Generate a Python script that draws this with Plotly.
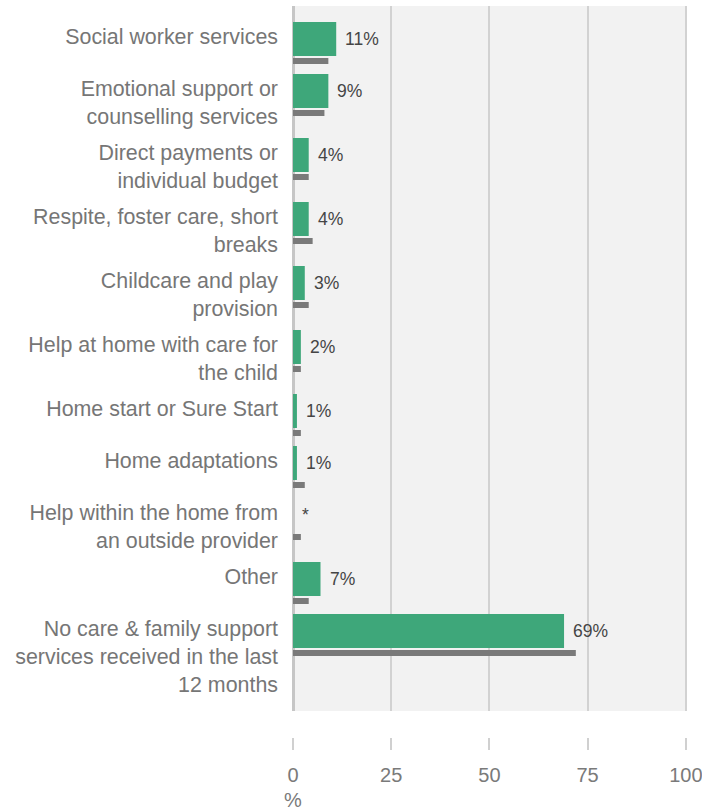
import plotly.graph_objects as go

# Care & family support services used in the last 12 months (%)
labels = [
    "Social worker services",
    "Emotional support or<br>counselling services",
    "Direct payments or<br>individual budget",
    "Respite, foster care, short<br>breaks",
    "Childcare and play<br>provision",
    "Help at home with care for<br>the child",
    "Home start or Sure Start",
    "Home adaptations",
    "Help within the home from<br>an outside provider",
    "Other",
    "No care & family support<br>services received in the last<br>12 months",
]
current = [11, 9, 4, 4, 3, 2, 1, 1, 0, 7, 69]
previous = [9, 8, 4, 5, 4, 2, 2, 3, 2, 4, 72]
value_text = ["*" if v == 0 else f"{v}%" for v in current]

x_ticks = [0, 25, 50, 75, 100]
X_MAX = 100.3   # a hair past 100 so the last gridline is kept

GREEN = "#3ea77a"
GREY_BAR = "#7a7a7a"
FONT = "Liberation Sans, Arial, Helvetica, sans-serif"

# page geometry (px)
W, H = 702, 811
M_L, M_T, M_B = 293, 6, 74
M_R = round(W - M_L - 393 * X_MAX / 100)
PLOT_H = H - M_T - M_B          # full plotting height incl. floating ticks
BAND_H = 705                    # height of the shaded band holding the bars
LABEL_SIZE = 21.4
LINE_H = LABEL_SIZE * 1.3

# row layout: each row grows with the number of label lines
TOP_PAD = 16
MAIN_T, GAP, SUB_T = 34, 2, 6
row_tops, label_pos = [], []
y = TOP_PAD
for lab in labels:
    n = lab.count("<br>") + 1
    row_tops.append(y)
    label_pos.append(y + 14.5 + (n - 1) * LINE_H / 2)
    y += 40 + 12 * n
main_pos = [t + MAIN_T / 2 for t in row_tops]
sub_pos = [t + MAIN_T + GAP + SUB_T / 2 for t in row_tops]

fig = go.Figure()
fig.add_trace(go.Bar(
    x=current, y=main_pos, orientation="h", width=MAIN_T,
    marker=dict(color=GREEN, line=dict(width=0)), name="Current",
    hovertext=[l.replace("<br>", " ") for l in labels],
))
fig.add_trace(go.Bar(
    x=previous, y=sub_pos, orientation="h", width=SUB_T,
    marker=dict(color=GREY_BAR, line=dict(width=0)), name="Previous",
    hovertext=[l.replace("<br>", " ") for l in labels],
))

for v, t, yy in zip(current, value_text, main_pos):
    fig.add_annotation(
        x=v, y=yy, xref="x", yref="y", text=t, showarrow=False,
        xanchor="left", yanchor="middle", xshift=7,
        font=dict(family=FONT, size=17.5, color="#454545"),
    )

fig.add_annotation(
    x=0, xref="x", y=-(800 - (H - M_B)) / PLOT_H, yref="paper",
    text="%", showarrow=False, xanchor="center", yanchor="middle",
    font=dict(family=FONT, size=20, color="#7a7a7a"),
)

fig.update_layout(
    width=W, height=H,
    margin=dict(l=M_L, r=M_R, t=M_T, b=M_B, pad=0, autoexpand=False),
    paper_bgcolor="white", plot_bgcolor="#f2f2f2",
    barmode="overlay", showlegend=False,
    font=dict(family=FONT),
)
fig.update_xaxes(
    range=[0, X_MAX], tickvals=x_ticks, anchor="free", position=0,
    automargin=False,
    showgrid=True, gridcolor="#d2d2d2", gridwidth=2,
    zeroline=True, zerolinecolor="#c6c6c6", zerolinewidth=3,
    showline=False, ticks="outside", ticklen=12, tickwidth=1.5,
    tickcolor="#d0d0d0", ticklabelstandoff=8, ticklabeloverflow="allow",
    tickfont=dict(family=FONT, size=20, color="#7a7a7a"),
)
fig.update_yaxes(
    range=[BAND_H, 0], domain=[1 - BAND_H / PLOT_H, 1],
    automargin=False,
    tickvals=label_pos, ticktext=labels,
    showgrid=False, zeroline=False, showline=False, ticks="",
    ticklabelstandoff=14,
    tickfont=dict(family=FONT, size=LABEL_SIZE, color="#767676"),
)

fig.write_html("out.html")
